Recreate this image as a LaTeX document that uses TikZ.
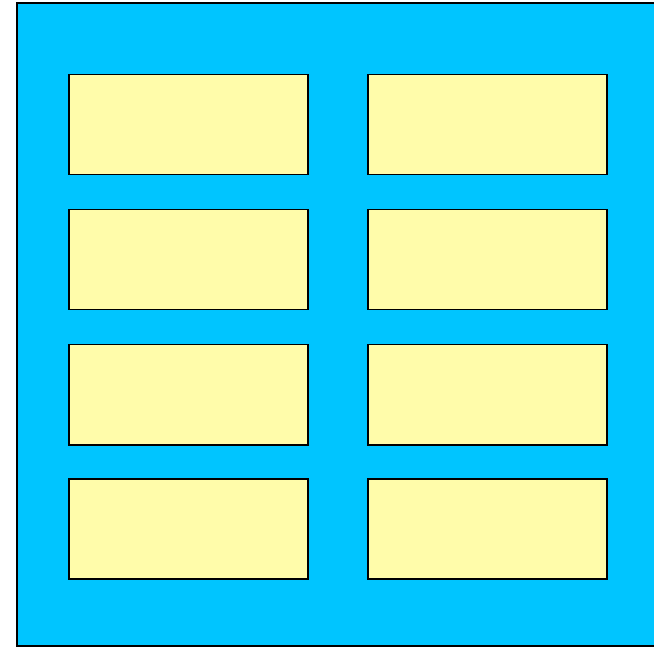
\documentclass[tikz,border=0pt]{standalone}
\definecolor{bgblue}{HTML}{00C5FF}
\definecolor{boxyellow}{HTML}{FFFCAA}
\tikzset{
  panel/.style={fill=bgblue, draw=black, line width=1.5pt},
  cell/.style={draw=black, fill=boxyellow, line width=1.5pt, minimum width=239pt, minimum height=100pt, inner sep=0pt, anchor=north west}
}
\begin{document}
\begin{tikzpicture}[x=1pt,y=-1pt]
\useasboundingbox (0,0) rectangle (654,647);
\begin{scope}
\clip (0,0) rectangle (654,647);
\draw[panel] (17,3) rectangle (662,646);
\end{scope}
\node[cell] (a1) at (68,74) {};
\node[cell] (b1) at (367,74) {};
\node[cell] (a2) at (68,209) {};
\node[cell] (b2) at (367,209) {};
\node[cell] (a3) at (68,344) {};
\node[cell] (b3) at (367,344) {};
\node[cell] (a4) at (68,478) {};
\node[cell] (b4) at (367,478) {};
\end{tikzpicture}
\end{document}
